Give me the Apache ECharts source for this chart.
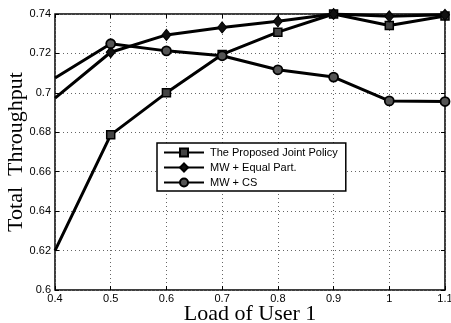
<!DOCTYPE html>
<html>
<head>
<meta charset="utf-8">
<script src="https://cdn.jsdelivr.net/npm/echarts@6/dist/echarts.min.js"></script>
<style>
  html, body { margin: 0; padding: 0; background: #fff; }
  #chart { width: 451px; height: 323px; }
</style>
</head>
<body>
<div id="chart"></div>
<script>
// load of user 1 (x axis)
var loads = [0.4, 0.5, 0.6, 0.7, 0.8, 0.9, 1.0, 1.1];
// total throughput per policy
var jointPolicy = [0.620, 0.6787, 0.700, 0.7195, 0.7308, 0.740, 0.7342, 0.739];
var equalPart   = [0.6973, 0.7206, 0.7294, 0.7332, 0.7363, 0.740, 0.7388, 0.7396];
var mwCs        = [0.7075, 0.7249, 0.7213, 0.7188, 0.7117, 0.7080, 0.6959, 0.6956];
var seriesNames = ['The Proposed Joint Policy', 'MW + Equal Part.', 'MW + CS'];

function pts(vals) {
  // first point sits on the left border, marker not shown there
  return vals.map(function (v, i) {
    var item = { value: [loads[i], v] };
    if (i === 0) item.symbol = 'none';
    return item;
  });
}

var chart = echarts.init(document.getElementById('chart'));
var tickFont = { color: '#000', fontFamily: 'Liberation Sans, Arial', fontSize: 11 };

chart.setOption({
  animation: false,
  grid: {
    left: 55, right: 6, top: 14, bottom: 33, outerBoundsMode: 'none', containLabel: false,
    show: true, borderColor: '#000', borderWidth: 1.5, backgroundColor: '#fff'
  },
  legend: {
    orient: 'vertical',
    left: 157, top: 143,
    itemWidth: 40, itemHeight: 10, itemGap: 4,
    padding: [4, 8, 3, 6],
    borderColor: '#000', borderWidth: 1.5, borderRadius: 0,
    backgroundColor: '#fff',
    textStyle: { color: '#000', fontFamily: 'Liberation Sans, Arial', fontSize: 11, padding: [0, 0, 0, 1] },
    data: seriesNames
  },
  xAxis: [{
    type: 'value', min: 0.4, max: 1.1, interval: 0.1,
    name: 'Load of User 1', nameLocation: 'middle', nameGap: 13, nameMoveOverlap: false,
    nameTextStyle: { color: '#000', fontFamily: 'Liberation Serif, Times New Roman', fontSize: 22 },
    axisLine: { show: false },
    axisTick: { inside: true, length: 4, lineStyle: { color: '#000' } },
    axisLabel: Object.assign({ margin: 3 }, tickFont),
    splitLine: { show: true, lineStyle: { color: '#666', type: [1, 3], width: 1 } }
  }, {
    type: 'value', min: 0.4, max: 1.1, interval: 0.1, position: 'top',
    axisLine: { show: false }, axisLabel: { show: false }, splitLine: { show: false },
    axisTick: { inside: true, length: 4, lineStyle: { color: '#000' } }
  }],
  yAxis: [{
    type: 'value', min: 0.6, max: 0.74, interval: 0.02,
    name: 'Total  Throughput', nameLocation: 'middle', nameGap: 28, nameMoveOverlap: false,
    nameTextStyle: { color: '#000', fontFamily: 'Liberation Serif, Times New Roman', fontSize: 22 },
    axisLine: { show: false },
    axisTick: { inside: true, length: 4, lineStyle: { color: '#000' } },
    axisLabel: Object.assign({ margin: 4 }, tickFont),
    splitLine: { show: true, lineStyle: { color: '#666', type: [1, 3], width: 1 } }
  }, {
    type: 'value', min: 0.6, max: 0.74, interval: 0.02, position: 'right',
    axisLine: { show: false }, axisLabel: { show: false }, splitLine: { show: false },
    axisTick: { inside: true, length: 4, lineStyle: { color: '#000' } }
  }],
  series: [{
    name: seriesNames[0], type: 'line', data: pts(jointPolicy),
    symbol: 'rect', symbolSize: 8,
    lineStyle: { color: '#000', width: 3 },
    itemStyle: { color: '#444', borderColor: '#000', borderWidth: 1.5 }
  }, {
    name: seriesNames[1], type: 'line', data: pts(equalPart),
    symbol: 'diamond', symbolSize: [9, 11],
    lineStyle: { color: '#000', width: 3 },
    itemStyle: { color: '#111', borderColor: '#000', borderWidth: 1 }
  }, {
    name: seriesNames[2], type: 'line', data: pts(mwCs),
    symbol: 'circle', symbolSize: 9,
    lineStyle: { color: '#000', width: 3 },
    itemStyle: { color: '#555', borderColor: '#000', borderWidth: 1.8 }
  }]
});
</script>
</body>
</html>
